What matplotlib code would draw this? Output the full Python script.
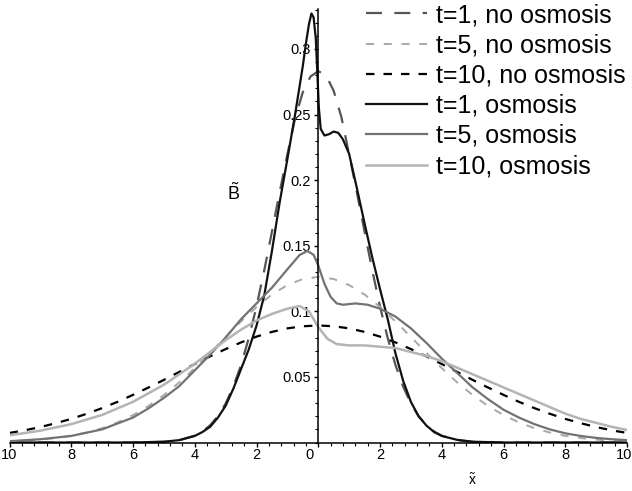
import matplotlib
matplotlib.use("Agg")
import matplotlib.pyplot as plt
import matplotlib.transforms as mtransforms
from matplotlib.ticker import MultipleLocator

plt.rcParams['font.family'] = ['Liberation Sans', 'DejaVu Sans']
plt.rcParams['mathtext.fontset'] = 'custom'
plt.rcParams['mathtext.rm'] = 'Liberation Sans'
plt.rcParams['lines.scale_dashes'] = False

# ---- data ----
# t=1, no osmosis
x_t1_no = [-10, -6, -5, -4.5, -4, -3.75, -3.5, -3.25, -3, -2.75, -2.5, -2.25, -2, -1.75,
           -1.5, -1.25, -1, -0.75, -0.5, -0.25, 0, 0.25, 0.5, 0.75, 1, 1.25, 1.5, 1.75,
           2, 2.25, 2.5, 2.75, 3, 3.25, 3.5, 3.75, 4, 4.5, 5, 6, 10]
b_t1_no = [0, 0, 0.0005, 0.0018, 0.0052, 0.0084, 0.0132, 0.0201, 0.0297, 0.0426, 0.0591,
           0.0796, 0.1037, 0.1311, 0.1607, 0.1908, 0.2196, 0.247, 0.267, 0.279, 0.283,
           0.280, 0.268, 0.248, 0.2196, 0.1908, 0.1607, 0.1311, 0.1037, 0.0796, 0.0591,
           0.0426, 0.0297, 0.0201, 0.0132, 0.0084, 0.0052, 0.0018, 0.0005, 0, 0]

# t=5 and t=10, no osmosis (read every 0.5)
x_half = [-10, -9.5, -9, -8.5, -8, -7.5, -7, -6.5, -6, -5.5, -5, -4.5, -4, -3.5, -3, -2.5,
          -2, -1.5, -1, -0.5, 0, 0.5, 1, 1.5, 2, 2.5, 3, 3.5, 4, 4.5, 5, 5.5, 6, 6.5, 7,
          7.5, 8, 8.5, 9, 9.5, 10]
b_t5_no = [0.0009, 0.0014, 0.0022, 0.0034, 0.0051, 0.0076, 0.0109, 0.0153, 0.0209, 0.0278,
           0.0362, 0.0458, 0.0567, 0.0684, 0.0805, 0.0923, 0.1033, 0.1128, 0.1200, 0.1246,
           0.1262, 0.1246, 0.1200, 0.1128, 0.1033, 0.0923, 0.0805, 0.0684, 0.0567, 0.0458,
           0.0362, 0.0278, 0.0209, 0.0153, 0.0109, 0.0076, 0.0051, 0.0034, 0.0022, 0.0014,
           0.0009]
b_t10_no = [0.0073, 0.0093, 0.0118, 0.0147, 0.0180, 0.0219, 0.0262, 0.0310, 0.0363, 0.0419,
            0.0477, 0.0538, 0.0598, 0.0657, 0.0712, 0.0763, 0.0807, 0.0843, 0.0870, 0.0886,
            0.0892, 0.0886, 0.0870, 0.0843, 0.0807, 0.0763, 0.0712, 0.0657, 0.0598, 0.0538,
            0.0477, 0.0419, 0.0363, 0.0310, 0.0262, 0.0219, 0.0180, 0.0147, 0.0118, 0.0093,
            0.0073]

# t=1, osmosis
x_t1_os = [-10, -6, -5, -4.5, -4, -3.75, -3.5, -3.25, -3, -2.75, -2.5, -2.25, -2, -1.75,
           -1.5, -1.25, -1, -0.75, -0.5, -0.4, -0.3, -0.22, -0.15, -0.08, -0.03, 0.02,
           0.08, 0.2, 0.35, 0.5, 0.65, 0.8, 1, 1.25, 1.5, 1.75, 2, 2.25, 2.5, 2.75, 3,
           3.25, 3.5, 3.75, 4, 4.5, 5, 6, 10]
b_t1_os = [0, 0, 0.0006, 0.0018, 0.005, 0.008, 0.012, 0.019, 0.028, 0.041, 0.056, 0.071,
           0.089, 0.112, 0.146, 0.183, 0.216, 0.250, 0.287, 0.304, 0.319, 0.327, 0.324,
           0.308, 0.282, 0.255, 0.239, 0.234, 0.235, 0.237, 0.236, 0.231, 0.220, 0.194,
           0.167, 0.141, 0.117, 0.094, 0.068, 0.047, 0.031, 0.020, 0.013, 0.008, 0.005,
           0.002, 0.0006, 0, 0]

# t=5, osmosis
x_t5_os = [-10, -9, -8, -7, -6, -5.5, -5, -4.5, -4, -3.5, -3, -2.5, -2, -1.5, -1, -0.6,
           -0.35, -0.15, 0, 0.2, 0.4, 0.6, 0.8, 1.2, 1.6, 2, 2.5, 3, 3.5, 4, 4.5, 5, 5.5,
           6, 6.5, 7, 7.5, 8, 8.5, 9, 9.5, 10]
b_t5_os = [0.001, 0.0025, 0.005, 0.010, 0.019, 0.026, 0.034, 0.043, 0.055, 0.067, 0.080,
           0.094, 0.106, 0.118, 0.132, 0.143, 0.146, 0.143, 0.135, 0.121, 0.111, 0.106,
           0.105, 0.106, 0.105, 0.102, 0.096, 0.087, 0.076, 0.064, 0.053, 0.042, 0.033,
           0.025, 0.019, 0.014, 0.010, 0.007, 0.005, 0.0035, 0.0025, 0.0018]

# t=10, osmosis
x_t10_os = [-10, -9, -8, -7, -6, -5, -4.5, -4, -3.5, -3, -2.5, -2, -1.5, -1, -0.6, -0.3,
            0, 0.3, 0.6, 1, 1.5, 2, 2.5, 3, 3.5, 4, 4.5, 5, 5.5, 6, 6.5, 7, 7.5, 8, 8.5,
            9, 9.5, 10]
b_t10_os = [0.0055, 0.009, 0.014, 0.021, 0.031, 0.044, 0.052, 0.060, 0.069, 0.078, 0.086,
            0.093, 0.098, 0.102, 0.104, 0.100, 0.088, 0.079, 0.075, 0.074, 0.074, 0.073,
            0.072, 0.069, 0.066, 0.062, 0.057, 0.052, 0.047, 0.042, 0.037, 0.032, 0.027,
            0.022, 0.018, 0.015, 0.012, 0.0095]

labels = ['t=1, no osmosis', 't=5, no osmosis', 't=10, no osmosis',
          't=1, osmosis', 't=5, osmosis', 't=10, osmosis']

x_ticks = [-10, -8, -6, -4, -2, 0, 2, 4, 6, 8, 10]
x_tick_labels = ['10', '8', '6', '4', '2', '0', '2', '4', '6', '8', '10']
y_ticks = [0.05, 0.1, 0.15, 0.2, 0.25, 0.3]
y_tick_labels = ['0.05', '0.1', '0.15', '0.2', '0.25', '0.3']

# ---- figure ----
W, H = 632, 491
fig = plt.figure(figsize=(W / 100, H / 100), dpi=100)
ax = fig.add_axes([9.5 / W, 48.5 / H, 617.5 / W, 434 / H])

ax.plot(x_t1_no, b_t1_no, color='#555555', lw=1.6, dashes=(11.5, 8.9), label=labels[0])
ax.plot(x_half, b_t5_no, color='#a8a8a8', lw=1.4, dashes=(5.8, 7.0), label=labels[1])
ax.plot(x_half, b_t10_no, color='#000000', lw=1.6, dashes=(6.1, 6.5), label=labels[2])
ax.plot(x_t1_os, b_t1_os, color='#111111', lw=1.6, label=labels[3])
ax.plot(x_t5_os, b_t5_os, color='#727272', lw=1.6, label=labels[4])
ax.plot(x_t10_os, b_t10_os, color='#b4b4b4', lw=1.8, label=labels[5])

ax.set_xlim(-10, 10)
ax.set_ylim(0, 434 / 1312)

for s in ['top', 'right']:
    ax.spines[s].set_visible(False)
ax.spines['left'].set_position(('data', 0))
ax.spines['bottom'].set_position(('data', 0))
ax.spines['left'].set_linewidth(1.1)
ax.spines['bottom'].set_linewidth(1.1)

ax.set_xticks(x_ticks)
ax.set_xticklabels(x_tick_labels)
ax.set_yticks(y_ticks)
ax.set_yticklabels(y_tick_labels)
ax.xaxis.set_minor_locator(MultipleLocator(0.4))
ax.yaxis.set_minor_locator(MultipleLocator(0.01))
ax.tick_params(which='major', length=3, width=1, direction='out', labelsize=10.5)
ax.tick_params(which='minor', length=2, width=0.8, direction='out')
ax.tick_params(axis='x', pad=1)
ax.tick_params(axis='y', pad=2.5)

# the "0" under the origin sits left of its tick
xlabs = ax.get_xticklabels()
zero_lab = xlabs[5]
zero_lab.set_ha('right')
zero_lab.set_transform(zero_lab.get_transform() +
                       mtransforms.ScaledTranslation(-5 / 100, 0, fig.dpi_scale_trans))
# keep the last "10" inside the picture
xlabs[-1].set_ha('right')
xlabs[-1].set_transform(xlabs[-1].get_transform() +
                        mtransforms.ScaledTranslation(5 / 100, 0, fig.dpi_scale_trans))

ax.text(-2.75, 0.19, r'$\tilde{\mathrm{B}}$', fontsize=13, ha='center', va='center')
fig.text(472 / W, 1 - 480 / H, r'$\tilde{\mathrm{x}}$', fontsize=10, ha='center', va='center')

ax.legend(loc='upper left', bbox_to_anchor=(366 / W, 1 - 3 / H), bbox_transform=fig.transFigure,
          frameon=False, fontsize=18, handlelength=2.44, handletextpad=0.36,
          labelspacing=0.25, borderpad=0, borderaxespad=0)

fig.savefig('out.png', dpi=100)
